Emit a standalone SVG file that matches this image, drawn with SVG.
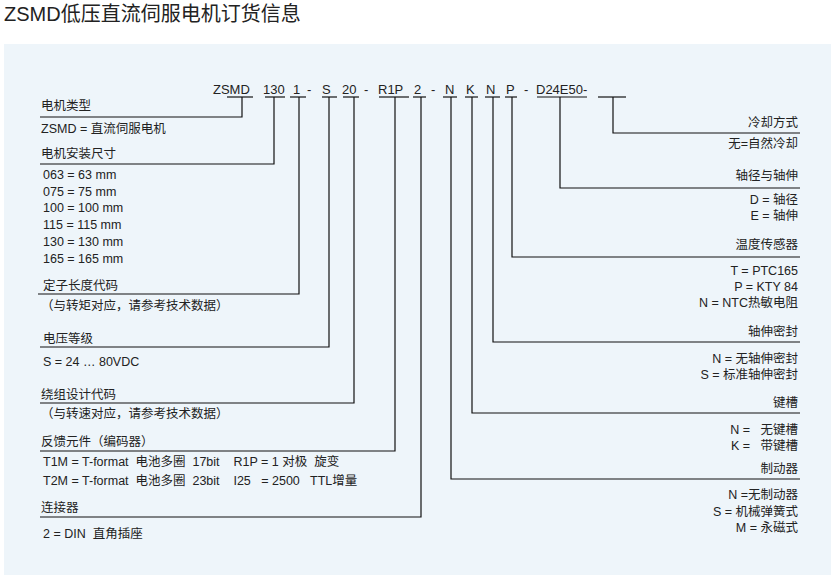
<svg xmlns="http://www.w3.org/2000/svg" width="831" height="581" viewBox="0 0 831 581">
<style>
text{font-family:"Liberation Sans","Noto Sans CJK SC",sans-serif;font-size:12.5px;fill:#222;white-space:pre}
.r{text-anchor:end}
.t{font-size:20px;fill:#222}
.c{font-size:13px}
line,polyline{stroke:#111;stroke-width:1.2;fill:none}
</style>
<rect x="0" y="0" width="831" height="581" fill="#fff"/>
<rect x="4" y="44" width="827" height="531" fill="#eef5fa"/>
<text class="t" x="4" y="21">ZSMD低压直流伺服电机订货信息</text>
<g id="code">
<text class="c" x="213" y="94">ZSMD</text>
<text class="c" x="263" y="94">130</text>
<text class="c" x="293" y="94">1</text>
<text class="c" x="307" y="94">-</text>
<text class="c" x="322" y="94">S</text>
<text class="c" x="342" y="94">20</text>
<text class="c" x="364" y="94">-</text>
<text class="c" x="378" y="94">R1P</text>
<text class="c" x="414" y="94">2</text>
<text class="c" x="431" y="94">-</text>
<text class="c" x="445" y="94">N</text>
<text class="c" x="466" y="94">K</text>
<text class="c" x="486" y="94">N</text>
<text class="c" x="506" y="94">P</text>
<text class="c" x="524" y="94">-</text>
<text class="c" x="536" y="94">D24E50-</text>
</g>
<g id="connectors">
<line x1="227" y1="97" x2="253" y2="97"/><polyline points="242,97 242,117 40,117"/>
<line x1="265" y1="97" x2="285" y2="97"/><polyline points="274,97 274,164 40,164"/>
<line x1="290" y1="97" x2="306" y2="97"/><polyline points="299,97 299,294 38,294"/>
<line x1="322" y1="97" x2="337" y2="97"/><polyline points="329,97 329,347 40,347"/>
<line x1="343" y1="97" x2="359" y2="97"/><polyline points="354,97 354,403 40,403"/>
<line x1="379" y1="97" x2="409" y2="97"/><polyline points="395,97 395,451 40,451"/>
<line x1="413" y1="97" x2="426" y2="97"/><polyline points="421,97 421,517 40,517"/>
<line x1="443" y1="97" x2="457" y2="97"/><polyline points="451,97 451,479 800,479"/>
<line x1="465" y1="97" x2="478" y2="97"/><polyline points="472,97 472,413 800,413"/>
<line x1="485" y1="97" x2="500" y2="97"/><polyline points="493,97 493,342 800,342"/>
<line x1="505" y1="97" x2="517" y2="97"/><polyline points="512,97 512,257 800,257"/>
<line x1="537" y1="97" x2="587" y2="97"/><polyline points="560,97 560,188 800,188"/>
<line x1="598" y1="97" x2="626" y2="97"/><polyline points="613,97 613,133 800,133"/>
</g>
<g id="left">
<text x="41" y="110">电机类型</text>
<text x="41" y="133">ZSMD = 直流伺服电机</text>
<text x="41" y="158">电机安装尺寸</text>
<text x="43" y="179">063 = 63 mm</text>
<text x="43" y="196">075 = 75 mm</text>
<text x="43" y="212">100 = 100 mm</text>
<text x="43" y="229">115 = 115 mm</text>
<text x="43" y="246">130 = 130 mm</text>
<text x="43" y="263">165 = 165 mm</text>
<text x="43" y="290">定子长度代码</text>
<text x="41" y="310">（与转矩对应，请参考技术数据）</text>
<text x="43" y="343">电压等级</text>
<text x="43" y="366">S = 24 … 80VDC</text>
<text x="41" y="399">绕组设计代码</text>
<text x="41" y="418">（与转速对应，请参考技术数据）</text>
<text x="41" y="446">反馈元件（编码器）</text>
<text x="43" y="466">T1M = T-format  电池多圈  17bit    R1P = 1 对极  旋变</text>
<text x="43" y="485">T2M = T-format  电池多圈  23bit    I25   = 2500   TTL增量</text>
<text x="41" y="512">连接器</text>
<text x="43" y="538">2 = DIN  直角插座</text>
</g>
<g id="right">
<text class="r" x="798" y="127">冷却方式</text>
<text class="r" x="798" y="148">无=自然冷却</text>
<text class="r" x="798" y="180">轴径与轴伸</text>
<text class="r" x="798" y="204">D = 轴径</text>
<text class="r" x="798" y="220">E = 轴伸</text>
<text class="r" x="798" y="249">温度传感器</text>
<text class="r" x="798" y="275">T = PTC165</text>
<text class="r" x="798" y="291">P = KTY 84</text>
<text class="r" x="798" y="307">N = NTC热敏电阻</text>
<text class="r" x="798" y="336">轴伸密封</text>
<text class="r" x="798" y="363">N = 无轴伸密封</text>
<text class="r" x="798" y="379">S = 标准轴伸密封</text>
<text class="r" x="798" y="407">键槽</text>
<text class="r" x="798" y="434">N =   无键槽</text>
<text class="r" x="798" y="450">K =   带键槽</text>
<text class="r" x="798" y="473">制动器</text>
<text class="r" x="798" y="499">N =无制动器</text>
<text class="r" x="798" y="516">S = 机械弹簧式</text>
<text class="r" x="798" y="532">M = 永磁式</text>
</g>
</svg>
